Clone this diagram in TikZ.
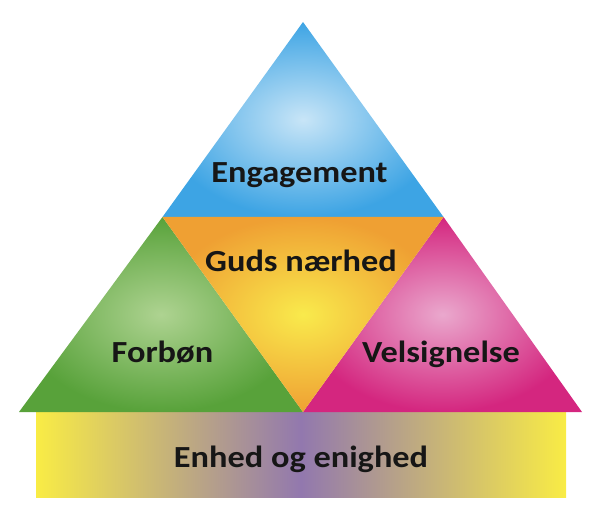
\documentclass[tikz,border=0pt]{standalone}
\usepackage{fontspec}
\setmainfont{Carlito}
\definecolor{bOut}{HTML}{3DA4E4}
\definecolor{bIn}{HTML}{C8E5F7}
\definecolor{gOut}{HTML}{58A23A}
\definecolor{gIn}{HTML}{AED391}
\definecolor{pOut}{HTML}{D4267F}
\definecolor{pIn}{HTML}{EAA8CD}
\definecolor{oOut}{HTML}{EFA033}
\definecolor{oIn}{HTML}{F9EA4C}
\definecolor{yel}{HTML}{F9EC45}
\definecolor{pur}{HTML}{9278AE}
\definecolor{txt}{HTML}{161616}
\tikzset{
  lbl/.style={text=txt, inner sep=0pt, anchor=base, font=\fontsize{23}{27}\selectfont\bfseries},
}
\newcommand{\stretchtxt}[1]{\scalebox{1.12}[1]{#1}}
\begin{document}
\begin{tikzpicture}[x=0.75pt,y=-0.75pt]
\useasboundingbox (0,0) rectangle (610,527);
% vertices
\coordinate (A) at (303,22);
\coordinate (L) at (19,412);
\coordinate (R) at (582,412);
\coordinate (M) at (303,412);
\coordinate (P) at (162.5,217);
\coordinate (Q) at (443.5,217);
% base rectangle
\shade[left color=yel, right color=yel, middle color=pur] (36,412) rectangle (566,497);
% triangles
\shade[inner color=bIn, outer color=bOut] (A) -- (Q) -- (P) -- cycle;
\shade[inner color=gIn, outer color=gOut] (P) -- (M) -- (L) -- cycle;
\shade[inner color=pIn, outer color=pOut] (Q) -- (R) -- (M) -- cycle;
\shade[inner color=oIn, outer color=oOut] (P) -- (Q) -- (M) -- cycle;
% labels
\node[lbl] (eng) at (299.5,183) {\stretchtxt{Engagement}};
\node[lbl] (guds) at (301,272) {\stretchtxt{Guds nærhed}};
\node[lbl] (forb) at (162.5,362) {\stretchtxt{Forbøn}};
\node[lbl] (vels) at (441,362) {\stretchtxt{Velsignelse}};
\node[lbl] (enh) at (301,467) {\stretchtxt{Enhed og enighed}};
\end{tikzpicture}
\end{document}
